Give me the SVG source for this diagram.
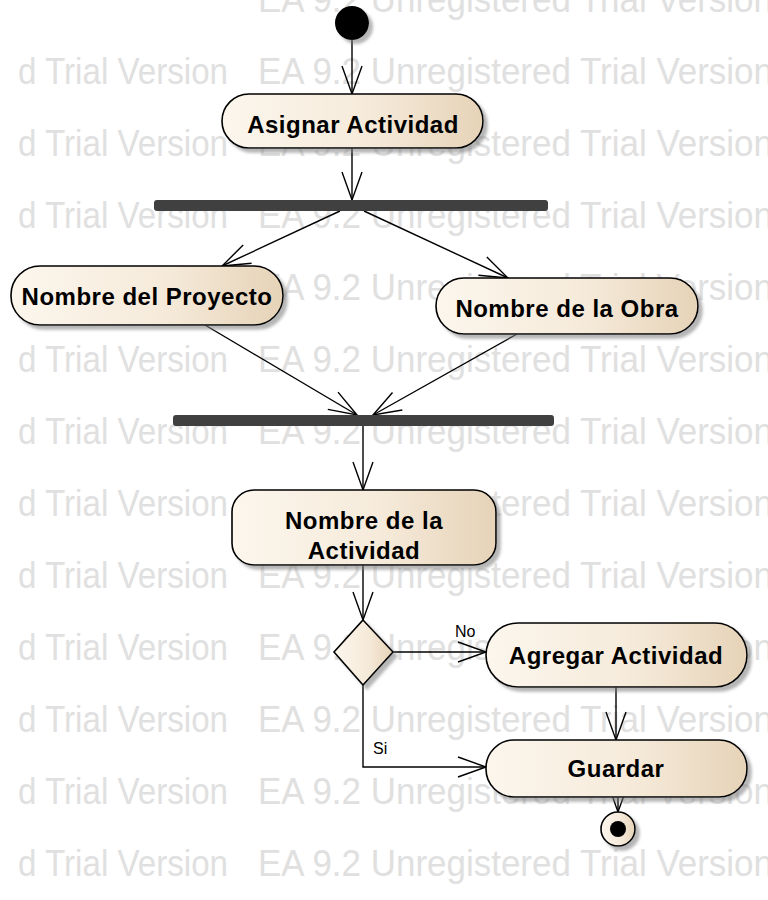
<svg xmlns="http://www.w3.org/2000/svg" width="768" height="900" viewBox="0 0 768 900">
  <defs>
    <linearGradient id="fillGrad" x1="0" y1="0" x2="1" y2="0">
      <stop offset="0" stop-color="#fcf6ed"/>
      <stop offset="0.55" stop-color="#f6ebdb"/>
      <stop offset="1" stop-color="#e6d3b8"/>
    </linearGradient>
    <filter id="shadow" x="-10%" y="-10%" width="130%" height="140%">
      <feDropShadow dx="4" dy="4" stdDeviation="1.5" flood-color="#7a7a7a" flood-opacity="0.55"/>
    </filter>
    <marker id="open" markerUnits="userSpaceOnUse" markerWidth="32" markerHeight="24" refX="28" refY="10" orient="auto" overflow="visible">
      <path d="M0,0 L28,10 L0,20" fill="none" stroke="#000" stroke-width="1.4"/>
    </marker>
  </defs>
  <style>
    .wm { font-family: "Liberation Sans", Arial, sans-serif; font-size: 36px; fill: #e0e0e0; }
    .act { fill: url(#fillGrad); stroke: #000; stroke-width: 1.6; filter: url(#shadow); }
    .bar { fill: #404040; }
    .lbl { font-family: "Liberation Sans", Arial, sans-serif; font-weight: bold; font-size: 24px; fill: #000; text-anchor: middle; letter-spacing: 0.5px; }
    .guard { font-family: "Liberation Sans", Arial, sans-serif; font-size: 16px; fill: #000; }
    .edge { fill: none; stroke: #000; stroke-width: 1.4; marker-end: url(#open); }
  </style>

  <rect width="768" height="900" fill="#fff"/>

  <!-- background watermark rows -->
  <g id="watermark">
    <text class="wm" x="258" y="12" textLength="515" lengthAdjust="spacingAndGlyphs">EA 9.2 Unregistered Trial Version</text>
    <text class="wm" x="18" y="84" textLength="210" lengthAdjust="spacingAndGlyphs">d Trial Version</text><text class="wm" x="258" y="84" textLength="515" lengthAdjust="spacingAndGlyphs">EA 9.2 Unregistered Trial Version</text>
    <text class="wm" x="18" y="156" textLength="210" lengthAdjust="spacingAndGlyphs">d Trial Version</text><text class="wm" x="258" y="156" textLength="515" lengthAdjust="spacingAndGlyphs">EA 9.2 Unregistered Trial Version</text>
    <text class="wm" x="18" y="228" textLength="210" lengthAdjust="spacingAndGlyphs">d Trial Version</text><text class="wm" x="258" y="228" textLength="515" lengthAdjust="spacingAndGlyphs">EA 9.2 Unregistered Trial Version</text>
    <text class="wm" x="18" y="300" textLength="210" lengthAdjust="spacingAndGlyphs">d Trial Version</text><text class="wm" x="258" y="300" textLength="515" lengthAdjust="spacingAndGlyphs">EA 9.2 Unregistered Trial Version</text>
    <text class="wm" x="18" y="372" textLength="210" lengthAdjust="spacingAndGlyphs">d Trial Version</text><text class="wm" x="258" y="372" textLength="515" lengthAdjust="spacingAndGlyphs">EA 9.2 Unregistered Trial Version</text>
    <text class="wm" x="18" y="444" textLength="210" lengthAdjust="spacingAndGlyphs">d Trial Version</text><text class="wm" x="258" y="444" textLength="515" lengthAdjust="spacingAndGlyphs">EA 9.2 Unregistered Trial Version</text>
    <text class="wm" x="18" y="516" textLength="210" lengthAdjust="spacingAndGlyphs">d Trial Version</text><text class="wm" x="258" y="516" textLength="515" lengthAdjust="spacingAndGlyphs">EA 9.2 Unregistered Trial Version</text>
    <text class="wm" x="18" y="588" textLength="210" lengthAdjust="spacingAndGlyphs">d Trial Version</text><text class="wm" x="258" y="588" textLength="515" lengthAdjust="spacingAndGlyphs">EA 9.2 Unregistered Trial Version</text>
    <text class="wm" x="18" y="660" textLength="210" lengthAdjust="spacingAndGlyphs">d Trial Version</text><text class="wm" x="258" y="660" textLength="515" lengthAdjust="spacingAndGlyphs">EA 9.2 Unregistered Trial Version</text>
    <text class="wm" x="18" y="732" textLength="210" lengthAdjust="spacingAndGlyphs">d Trial Version</text><text class="wm" x="258" y="732" textLength="515" lengthAdjust="spacingAndGlyphs">EA 9.2 Unregistered Trial Version</text>
    <text class="wm" x="18" y="804" textLength="210" lengthAdjust="spacingAndGlyphs">d Trial Version</text><text class="wm" x="258" y="804" textLength="515" lengthAdjust="spacingAndGlyphs">EA 9.2 Unregistered Trial Version</text>
    <text class="wm" x="18" y="876" textLength="210" lengthAdjust="spacingAndGlyphs">d Trial Version</text><text class="wm" x="258" y="876" textLength="515" lengthAdjust="spacingAndGlyphs">EA 9.2 Unregistered Trial Version</text>
  </g>

  <!-- control flows -->
  <g id="edges">
    <line class="edge" x1="352" y1="40" x2="352" y2="94"/>
    <line class="edge" x1="352" y1="148" x2="352" y2="200"/>
    <line class="edge" x1="340" y1="211" x2="222" y2="266"/>
    <line class="edge" x1="364" y1="211" x2="508" y2="278"/>
    <line class="edge" x1="205" y1="325" x2="357" y2="415"/>
    <line class="edge" x1="517" y1="334" x2="373" y2="415"/>
    <line class="edge" x1="363" y1="426" x2="363" y2="490"/>
    <line class="edge" x1="363" y1="565" x2="363" y2="620"/>
    <line class="edge" x1="392" y1="652" x2="486" y2="652"/>
    <path class="edge" d="M363,685 V767 H486"/>
    <line class="edge" x1="616" y1="687" x2="616" y2="740"/>
    <line class="edge" x1="618" y1="797" x2="618" y2="812"/>
    <text class="guard" x="455" y="637">No</text>
    <text class="guard" x="373" y="754">Si</text>
  </g>

  <g id="start">
    <circle cx="352" cy="23" r="17" fill="#000" filter="url(#shadow)"/>
  </g>

  <g id="asignar">
    <rect class="act" x="222" y="94" width="261" height="54" rx="27"/>
    <text class="lbl" x="353" y="133">Asignar Actividad</text>
  </g>

  <g id="fork">
    <rect class="bar" x="154" y="200" width="394" height="11" rx="3"/>
  </g>

  <g id="proyecto">
    <rect class="act" x="11" y="266" width="272" height="59" rx="29"/>
    <text class="lbl" x="147" y="305">Nombre del Proyecto</text>
  </g>

  <g id="obra">
    <rect class="act" x="436" y="278" width="262" height="56" rx="28"/>
    <text class="lbl" x="567" y="317">Nombre de la Obra</text>
  </g>

  <g id="join">
    <rect class="bar" x="173" y="415" width="381" height="11" rx="3"/>
  </g>

  <g id="actividad">
    <rect class="act" x="232" y="490" width="264" height="75" rx="22"/>
    <text class="lbl" x="364" y="529">Nombre de la</text>
    <text class="lbl" x="364" y="559">Actividad</text>
  </g>

  <g id="decision">
    <polygon class="act" points="363,620 393,652 363,685 334,652"/>
  </g>

  <g id="agregar">
    <rect class="act" x="486" y="623" width="261" height="64" rx="32"/>
    <text class="lbl" x="616" y="664">Agregar Actividad</text>
  </g>

  <g id="guardar">
    <rect class="act" x="486" y="740" width="261" height="57" rx="28"/>
    <text class="lbl" x="616" y="777">Guardar</text>
  </g>

  <g id="final">
    <circle class="act" cx="618" cy="829" r="17"/>
    <circle cx="618" cy="829" r="8" fill="#000"/>
  </g>
</svg>
